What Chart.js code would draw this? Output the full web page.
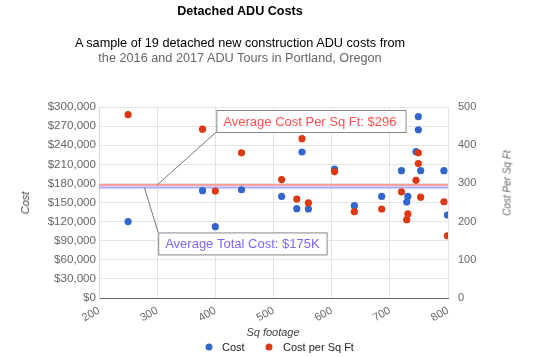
<!DOCTYPE html>
<html>
<head>
<meta charset="utf-8">
<script src="https://cdn.jsdelivr.net/npm/chart.js@4.4.1/dist/chart.umd.min.js"></script>
<style>
  html, body { margin: 0; padding: 0; background: #fff; overflow: hidden; }
  #wrap { position: relative; width: 546px; height: 357px; font-family: "Liberation Sans", Arial, sans-serif; }
  #c { position: absolute; left: 0; top: 0; }
  .t { position: absolute; white-space: nowrap; transform: translate(-50%, -50%); }
  .rot { transform: translate(-50%, -50%) rotate(-90deg); }
  .leg { position: absolute; font-size: 11px; color: #222; white-space: nowrap; transform: translateY(-50%); }
  .dot { position: absolute; width: 7px; height: 7px; border-radius: 50%; transform: translate(-50%, -50%); }
</style>
</head>
<body>
<div id="wrap">
  <canvas id="c" width="546" height="357"></canvas>
  <div class="t" style="left:240px;top:11px;font-size:12.6px;font-weight:bold;color:#000;">Detached ADU Costs</div>
  <div class="t" style="left:240px;top:43px;font-size:12.7px;color:#000;">A sample of 19 detached new construction ADU costs from</div>
  <div class="t" style="left:240px;top:58px;font-size:12.7px;color:#666;">the 2016 and 2017 ADU Tours in Portland, Oregon</div>
  <div class="t rot" style="left:25px;top:203px;font-size:11px;font-style:italic;color:#444;">Cost</div>
  <div class="t rot" style="left:507px;top:183px;font-size:10px;font-style:italic;color:#666;">Cost Per Sq Ft</div>
  <div class="t" style="left:273px;top:332px;font-size:11px;font-style:italic;color:#444;">Sq footage</div>
  <div class="dot" style="left:209px;top:347px;background:#3366cc;"></div>
  <div class="leg" style="left:222px;top:347px;">Cost</div>
  <div class="dot" style="left:269px;top:347px;background:#dc3912;"></div>
  <div class="leg" style="left:283px;top:347px;">Cost per Sq Ft</div>
</div>
<script>
// ---- data ----
const sqFootage   = [250, 378, 400, 445, 514, 540, 549, 560, 605, 639, 686, 720, 729, 731, 745, 749, 749, 753, 793, 799];
const totalCost   = [120000, 168500, 112000, 170000, 159600, 140300, 229300, 139800, 202600, 145000, 159600, 200000, 150800, 159600, 229800, 284800, 264300, 200000, 200000, 130400];
const costPerSqFt = [480, 442, 280, 380, 310, 259, 417, 249, 331, 226, 233, 278, 205, 220, 308, 380, 352, 264, 252, 163];
const seriesNames = ["Cost", "Cost per Sq Ft"];
const xTicks = [200, 300, 400, 500, 600, 700, 800];
const costTicks = [0, 30000, 60000, 90000, 120000, 150000, 180000, 210000, 240000, 270000, 300000];
const perSqFtTicks = [0, 100, 200, 300, 400, 500];
const avgTotalCost = 173500;
const avgCostPerSqFt = 296;
const avgLabels = ["Average Cost Per Sq Ft: $296", "Average Total Cost: $175K"];

const BLUE = "#3366cc", RED = "#dc3912";
const FONT = "'Liberation Sans', Arial, sans-serif";

const costPts = sqFootage.map((x, i) => ({ x, y: totalCost[i] }));
const perPts = sqFootage.map((x, i) => ({ x, y: costPerSqFt[i] }));
const xMin = xTicks[0], xMax = xTicks[xTicks.length - 1];

const annotationPlugin = {
  id: "avgAnnotations",
  afterDatasetsDraw(chart) {
    const { ctx, chartArea, scales } = chart;
    const xs = scales.x, ys = scales.y, ys1 = scales.y1;
    ctx.save();
    ctx.font = "13px " + FONT;
    ctx.textBaseline = "middle";
    // Red annotation (cost per sq ft)
    const ax1 = xs.getPixelForValue(300), ay1 = ys1.getPixelForValue(avgCostPerSqFt);
    const w1 = ctx.measureText(avgLabels[0]).width + 16;
    const bx1 = xs.getPixelForValue(400) + 1, by1 = chartArea.top + 3, bh = 22;
    ctx.strokeStyle = "#777"; ctx.lineWidth = 1;
    ctx.beginPath(); ctx.moveTo(ax1, ay1); ctx.lineTo(bx1, by1 + bh); ctx.stroke();
    ctx.fillStyle = "#fff"; ctx.fillRect(bx1, by1, w1, bh);
    ctx.strokeStyle = "#888"; ctx.strokeRect(bx1 + 0.5, by1 + 0.5, w1, bh);
    ctx.fillStyle = "#ff5050"; ctx.fillText(avgLabels[0], bx1 + 7, by1 + bh / 2 + 1);
    // Blue annotation (total cost)
    const ax2 = xs.getPixelForValue(278), ay2 = ys.getPixelForValue(avgTotalCost);
    const w2 = ctx.measureText(avgLabels[1]).width + 14;
    const bx2 = xs.getPixelForValue(300) + 1, by2 = ys.getPixelForValue(103000);
    ctx.strokeStyle = "#777";
    ctx.beginPath(); ctx.moveTo(ax2, ay2); ctx.lineTo(bx2, by2); ctx.stroke();
    ctx.fillStyle = "#fff"; ctx.fillRect(bx2, by2, w2, bh);
    ctx.strokeStyle = "#888"; ctx.strokeRect(bx2 + 0.5, by2 + 0.5, w2, bh);
    ctx.fillStyle = "#7f66ff"; ctx.fillText(avgLabels[1], bx2 + 7, by2 + bh / 2 + 1);
    ctx.restore();
  }
};

new Chart(document.getElementById("c"), {
  type: "scatter",
  data: {
    datasets: [
      { label: seriesNames[0], data: costPts, yAxisID: "y", backgroundColor: BLUE, borderWidth: 0, pointRadius: 3.6, order: 1 },
      { label: seriesNames[1], data: perPts, yAxisID: "y1", backgroundColor: RED, borderWidth: 0, pointRadius: 3.6, order: 0 },
      { label: "avgCost", data: [{ x: xMin, y: avgTotalCost }, { x: xMax, y: avgTotalCost }], yAxisID: "y", showLine: true, borderColor: "#a8a8ff", borderWidth: 2, pointRadius: 0, order: 3 },
      { label: "avgPer", data: [{ x: xMin, y: avgCostPerSqFt }, { x: xMax, y: avgCostPerSqFt }], yAxisID: "y1", showLine: true, borderColor: "#ffa0a0", borderWidth: 2, pointRadius: 0, order: 2 }
    ]
  },
  options: {
    responsive: false,
    animation: false,
    events: [],
    layout: { padding: { top: 107, left: 0, right: 0, bottom: 0 } },
    plugins: { legend: { display: false }, title: { display: false }, tooltip: { enabled: false } },
    scales: {
      x: {
        type: "linear", min: xMin, max: xMax,
        afterBuildTicks: (s) => { s.ticks = xTicks.map(v => ({ value: v })); },
        afterFit: (s) => { s.height = 59; },
        grid: { color: "#e4e4e4", drawTicks: false },
        border: { color: "#666", width: 1 },
        ticks: { minRotation: 30, maxRotation: 30, autoSkip: false, padding: 6, color: "#666", font: { family: FONT, size: 11 } }
      },
      y: {
        position: "left", min: 0, max: 300000,
        afterBuildTicks: (s) => { s.ticks = costTicks.map(v => ({ value: v })); },
        afterFit: (s) => { s.width = 99; },
        grid: { color: "#e4e4e4", drawTicks: false },
        border: { color: "#d8d8d8" },
        ticks: { padding: 3, color: "#666", font: { family: FONT, size: 11.6 },
          callback: (v) => "$" + v.toLocaleString("en-US") }
      },
      y1: {
        position: "right", min: 0, max: 500,
        afterBuildTicks: (s) => { s.ticks = perSqFtTicks.map(v => ({ value: v })); },
        afterFit: (s) => { s.width = 98; },
        grid: { drawOnChartArea: false, drawTicks: false },
        border: { display: false },
        ticks: { padding: 10, color: "#666", font: { family: FONT, size: 11 } }
      }
    }
  },
  plugins: [annotationPlugin]
});
</script>
</body>
</html>
